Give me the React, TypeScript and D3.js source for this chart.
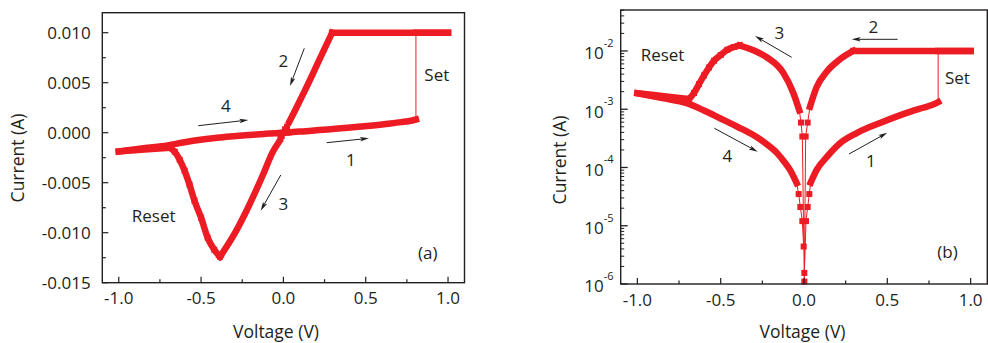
import React from "react";
import * as d3 from "d3";

// ---------- DATA (voltage in V, current in A, sweep order) ----------
// sweep 1 start: sparse points near 0 V
const s1HeadV = [0.002, 0.012, 0.022, 0.032];
const s1HeadI = [1.55e-6, 1.2e-5, 2.1e-5, 3.5e-5];
// sweep 1: HRS positive
const hrsPosV = [0.04, 0.076, 0.136, 0.216, 0.316, 0.475, 0.635, 0.715, 0.775, 0.805];
const hrsPosI = [5.5e-5, 9.1e-5, 1.5e-4, 2.6e-4, 3.9e-4, 6.1e-4, 9.0e-4, 1.06e-3, 1.2e-3, 1.32e-3];
// set + compliance
const complianceV = [0.805, 1.0];
const complianceI = [0.01, 0.01];
// sweep 2: compliance back, then LRS positive (back to 0)
const lrsFlatV = [1.0, 0.296];
const lrsFlatI = [0.01, 0.01];
const lrsPosV = [0.296, 0.216, 0.136, 0.076, 0.036];
const lrsPosI = [0.01, 0.0072, 0.0044, 0.0024, 0.0011];
const s2TailV = [0.022, 0.01, 0.002];
const s2TailI = [5.9e-4, 3.4e-4, 1.1e-6];
// sweep 3: LRS negative
const s3HeadV = [-0.01, -0.018];
const s3HeadI = [-3.4e-4, -5.9e-4];
const lrsNegV = [-0.028, -0.064, -0.124, -0.224, -0.3, -0.385];
const lrsNegI = [-0.00095, -0.0019, -0.0042, -0.0078, -0.0102, -0.0124];
// reset
const resetV = [-0.385, -0.42, -0.46, -0.5, -0.54, -0.57, -0.6, -0.63, -0.66, -0.69];
const resetI = [-0.0124, -0.0117, -0.0105, -0.0085, -0.0068, -0.0052, -0.0038, -0.0027, -0.0019, -0.0015];
// HRS after reset to -1 V
const hrsNegV = [-0.69, -0.8, -0.9, -1.0];
const hrsNegI = [-0.0015, -0.00162, -0.00175, -0.00188];
// sweep 4: HRS back to 0
const sweep4V = [-1.0, -0.85, -0.703, -0.6, -0.504, -0.4, -0.304, -0.23, -0.164, -0.12, -0.084, -0.044];
const sweep4I = [-0.00188, -0.00155, -0.00127, -0.00095, -0.0007, -0.0005, -0.00036, -0.00026, -0.00018, -0.000127, -0.000091, -0.000054];
const s4TailV = [-0.032, -0.022, -0.01, -0.002];
const s4TailI = [-3.5e-5, -2.1e-5, -1.2e-5, -4.4e-6];

// ticks
const xTicks = [-1.0, -0.5, 0.0, 0.5, 1.0];
const xTickLabels = ["-1.0", "-0.5", "0.0", "0.5", "1.0"];
const xMinor = [-0.75, -0.25, 0.25, 0.75];
const yLinTicks = [0.01, 0.005, 0, -0.005, -0.01, -0.015];
const yLinLabels = ["0.010", "0.005", "0.000", "-0.005", "-0.010", "-0.015"];
const yLinMinor = [0.0075, 0.0025, -0.0025, -0.0075, -0.0125];
const yLogExps = [-2, -3, -4, -5, -6];

// annotations: [text, V, I or log10|I|, anchor]
const annLeft: [string, number, number, string][] = [
  ["1", 0.41, -0.0033, "middle"],
  ["2", 0.0, 0.0066, "middle"],
  ["3", 0.0, -0.0077, "middle"],
  ["4", -0.349, 0.0021, "middle"],
  ["Set", 0.856, 0.0052, "start"],
  ["Reset", -0.921, -0.0089, "start"],
  ["(a)", 0.818, -0.0126, "start"],
];
const arrowsLeft = [
  [-0.517, 0.0007, -0.213, 0.00127],
  [0.263, -0.001, 0.52, -0.00056],
  [0.127, 0.00844, 0.04, 0.00467],
  [-0.016, -0.00423, -0.138, -0.0078],
];
const annRight: [string, number, number, string][] = [
  ["Reset", -0.98, -2.172, "start"],
  ["3", -0.148, -1.8, "middle"],
  ["2", 0.416, -1.697, "middle"],
  ["Set", 0.846, -2.567, "start"],
  ["4", -0.46, -3.911, "middle"],
  ["1", 0.402, -3.987, "middle"],
  ["(b)", 0.8, -5.559, "start"],
];
const arrowsRight = [
  [-0.074, -2.109, -0.294, -1.743],
  [0.562, -1.8, 0.286, -1.8],
  [-0.538, -3.327, -0.278, -3.729],
  [0.27, -3.769, 0.5, -3.403],
];

// ---------- helpers ----------
const zip = (v: number[], i: number[]) => v.map((x, k) => [x, i[k]] as [number, number]);
const RED = "#ed1c24";
const INK = "#231f20";
const FONT = "'Open Sans', sans-serif";

const bands = [
  zip(hrsPosV, hrsPosI),
  zip(complianceV, complianceI),
  zip(lrsFlatV, lrsFlatI),
  zip(lrsPosV, lrsPosI),
  zip(lrsNegV, lrsNegI),
  zip(resetV, resetI),
  zip(hrsNegV, hrsNegI),
  zip(sweep4V, sweep4I),
];
const sparse = [
  zip(s1HeadV, s1HeadI),
  zip(s2TailV, s2TailI),
  zip(s3HeadV, s3HeadI),
  zip(s4TailV, s4TailI),
  zip(resetV, resetI),
];
const sequence = [
  ...zip(s1HeadV, s1HeadI),
  ...zip(hrsPosV, hrsPosI),
  ...zip(complianceV, complianceI),
  ...zip(lrsFlatV, lrsFlatI),
  ...zip(lrsPosV, lrsPosI),
  ...zip(s2TailV, s2TailI),
  ...zip(s3HeadV, s3HeadI),
  ...zip(lrsNegV, lrsNegI),
  ...zip(resetV, resetI),
  ...zip(hrsNegV, hrsNegI),
  ...zip(sweep4V, sweep4I),
  ...zip(s4TailV, s4TailI),
];

function Arrow({ x1, y1, x2, y2 }: { x1: number; y1: number; x2: number; y2: number }) {
  const dx = x2 - x1, dy = y2 - y1;
  const len = Math.hypot(dx, dy);
  const ux = dx / len, uy = dy / len;
  const hl = 9, hw = 2.3;
  const bx = x2 - ux * hl, by = y2 - uy * hl;
  const pts = `${x2},${y2} ${bx - uy * hw},${by + ux * hw} ${bx + ux * 2},${by + uy * 2} ${bx + uy * hw},${by - ux * hw}`;
  return (
    <g>
      <line x1={x1} y1={y1} x2={bx + ux * 2} y2={by + uy * 2} stroke={INK} strokeWidth={1} />
      <polygon points={pts} fill={INK} />
    </g>
  );
}

function Panel({ log }: { log: boolean }) {
  const left = log ? 620.7 : 102.3;
  const right = log ? 987.3 : 464.5;
  const top = log ? 10 : 12.7;
  const bottom = log ? 284 : 282.7;
  const x = d3.scaleLinear().domain([-1.1, 1.1]).range([left, right]);
  const yLin = d3.scaleLinear().domain([-0.015, 0.012]).range([bottom, top]);
  const yLog = d3.scaleLog().domain([1e-6, Math.pow(10, -1.297)]).range([bottom, top]);
  const y = (i: number) => (log ? yLog(Math.max(Math.abs(i), 1e-6)) : yLin(i));

  const thin = d3.line<[number, number]>().x((d) => x(d[0])).y((d) => y(d[1]));
  const thick = d3
    .line<[number, number]>()
    .x((d) => x(d[0]))
    .y((d) => y(d[1]))
    .curve(d3.curveMonotoneX);

  const logMinor: number[] = [];
  if (log) {
    for (let e = -6; e <= -2; e++) {
      for (let m = 2; m <= 9; m++) {
        const v = m * Math.pow(10, e);
        if (v <= Math.pow(10, -1.297)) logMinor.push(v);
      }
    }
  }

  const ann = log ? annRight : annLeft;
  const arr = log ? arrowsRight : arrowsLeft;
  const ay = (v: number) => (log ? yLog(Math.pow(10, v)) : yLin(v));

  return (
    <g>
      {/* thin connecting line */}
      <path d={thin(sequence) || ""} fill="none" stroke={RED} strokeWidth={1} />
      {/* dense bands */}
      {bands.map((b, k) => (
        <path
          key={k}
          d={thick(b) || ""}
          fill="none"
          stroke={RED}
          strokeWidth={6.5}
          strokeLinejoin="round"
          strokeLinecap="square"
        />
      ))}
      {/* individual markers */}
      {sparse.flat().map((p, k) => (
        <rect key={k} x={x(p[0]) - 3} y={y(p[1]) - 3} width={6} height={6} fill={RED} />
      ))}

      {/* frame */}
      <rect x={left} y={top} width={right - left} height={bottom - top} fill="none" stroke={INK} strokeWidth={1.4} />

      {/* x ticks */}
      {xTicks.map((t, k) => (
        <g key={k}>
          <line x1={x(t)} x2={x(t)} y1={bottom} y2={bottom - 6} stroke={INK} strokeWidth={1.2} />
          <text x={x(t)} y={log ? 305.7 : 303.5} textAnchor="middle" fontSize={17} fontFamily={FONT} fill={INK}>
            {xTickLabels[k]}
          </text>
        </g>
      ))}
      {xMinor.map((t, k) => (
        <line key={k} x1={x(t)} x2={x(t)} y1={bottom} y2={bottom - 3.5} stroke={INK} strokeWidth={1.2} />
      ))}

      {/* y ticks */}
      {!log &&
        yLinTicks.map((t, k) => (
          <g key={k}>
            <line x1={left} x2={left + 6} y1={yLin(t)} y2={yLin(t)} stroke={INK} strokeWidth={1.2} />
            <text x={90.7} y={yLin(t) + 6.2} textAnchor="end" fontSize={17} fontFamily={FONT} fill={INK}>
              {yLinLabels[k]}
            </text>
          </g>
        ))}
      {!log &&
        yLinMinor.map((t, k) => (
          <line key={k} x1={left} x2={left + 3.5} y1={yLin(t)} y2={yLin(t)} stroke={INK} strokeWidth={1.2} />
        ))}
      {log &&
        yLogExps.map((e, k) => (
          <g key={k}>
            <line x1={left} x2={left + 7} y1={yLog(Math.pow(10, e))} y2={yLog(Math.pow(10, e))} stroke={INK} strokeWidth={1.3} />
            <text x={613.5} y={yLog(Math.pow(10, e)) + 8.3} textAnchor="end" fontSize={17} fontFamily={FONT} fill={INK}>
              <tspan>10</tspan>
              <tspan dy={-12.5} fontSize={11}>{"-" + Math.abs(e)}</tspan>
            </text>
          </g>
        ))}
      {log &&
        logMinor.map((v, k) => (
          <line key={k} x1={left} x2={left + 3.5} y1={yLog(v)} y2={yLog(v)} stroke={INK} strokeWidth={1} />
        ))}

      {/* axis titles */}
      <text
        x={log ? 802.5 : 276}
        y={log ? 338.3 : 337.7}
        textAnchor="middle"
        fontSize={17.5}
        fontFamily={FONT}
        fill={INK}
      >
        Voltage (V)
      </text>
      <text
        transform={`translate(${log ? 566 : 24},${log ? 160 : 158}) rotate(-90)`}
        textAnchor="middle"
        fontSize={17.5}
        fontFamily={FONT}
        fill={INK}
      >
        Current (A)
      </text>

      {/* annotations */}
      {ann.map((a, k) => (
        <text key={k} x={x(a[1])} y={ay(a[2])} textAnchor={a[3]} fontSize={17} fontFamily={FONT} fill={INK}>
          {a[0]}
        </text>
      ))}
      {arr.map((a, k) => (
        <Arrow key={k} x1={x(a[0])} y1={ay(a[1])} x2={x(a[2])} y2={ay(a[3])} />
      ))}
    </g>
  );
}

export default function App() {
  return (
    <svg
      width={988}
      height={343}
      style={{ position: "absolute", left: 0, top: 0, background: "#fff" }}
    >
      <rect width={988} height={343} fill="#fff" />
      <Panel log={false} />
      <Panel log={true} />
    </svg>
  );
}
